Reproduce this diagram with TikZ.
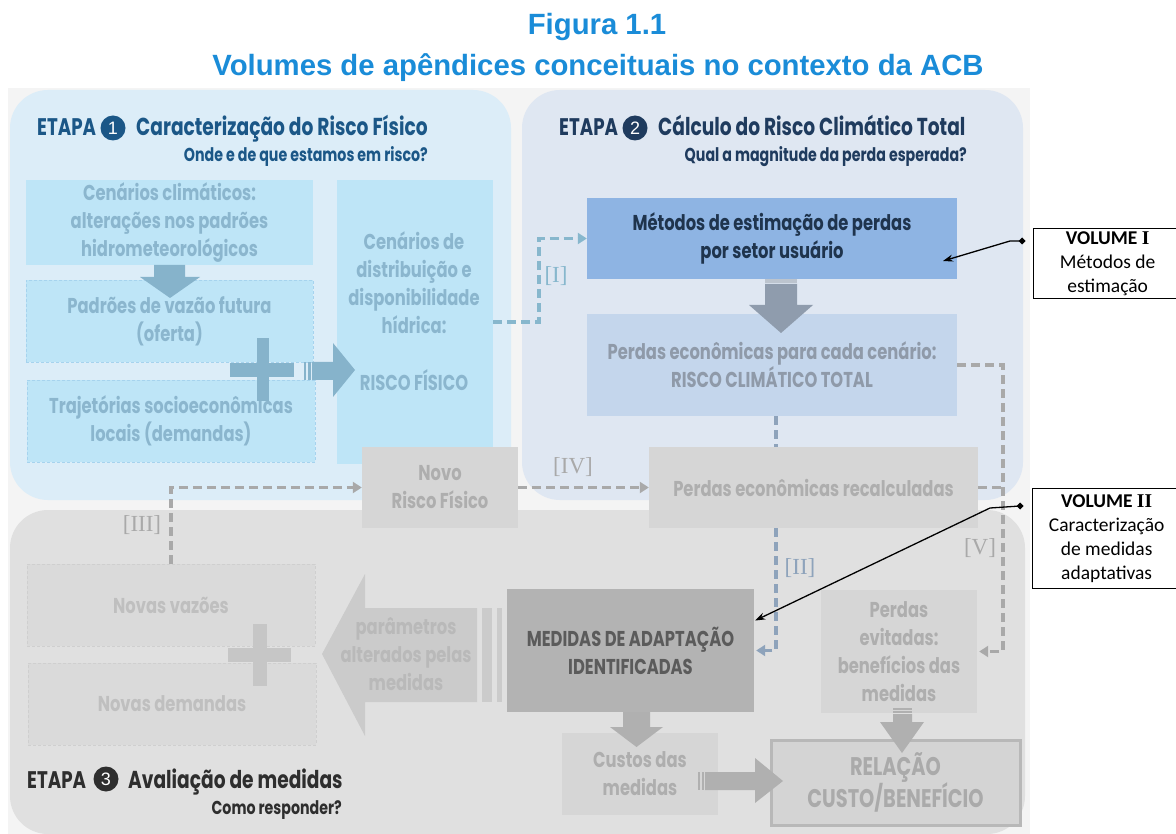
\documentclass[tikz,border=0pt]{standalone}
\usepackage{fontspec}
\usetikzlibrary{arrows.meta,calc}
\setmainfont{Liberation Sans}
\newfontfamily\cond[FakeStretch=0.76]{Poppins}
\newfontfamily\calib{Carlito}
\newfontfamily\serifl{Liberation Serif}
\definecolor{bgout}{HTML}{F4F4F4}
\definecolor{pone}{HTML}{DCEDF8}
\definecolor{ptwo}{HTML}{DFE7F2}
\definecolor{pthree}{HTML}{E0E0E0}
\definecolor{cyfill}{HTML}{BEE5F7}
\definecolor{cytext}{HTML}{8BB6CE}
\definecolor{cyarrow}{HTML}{86B3CB}
\definecolor{cyborder}{HTML}{A6D3EE}
\definecolor{hdone}{HTML}{1B5787}
\definecolor{hdtwo}{HTML}{1F3B5E}
\definecolor{hdthree}{HTML}{2E2E2E}
\definecolor{metfill}{HTML}{8EB4E3}
\definecolor{mettext}{HTML}{1F344D}
\definecolor{arrtwo}{HTML}{8F9CAD}
\definecolor{rctfill}{HTML}{C4D6EC}
\definecolor{rcttext}{HTML}{8F9AA9}
\definecolor{gfill}{HTML}{D6D6D6}
\definecolor{gtext}{HTML}{AEAEAE}
\definecolor{medfill}{HTML}{B3B3B3}
\definecolor{medtext}{HTML}{5B5B5B}
\definecolor{bigarr}{HTML}{CBCBCB}
\definecolor{bigtext}{HTML}{B9B9B9}
\definecolor{garrow}{HTML}{B0B0B0}
\definecolor{novfill}{HTML}{DADADA}
\definecolor{novborder}{HTML}{CFCFCF}
\definecolor{novtext}{HTML}{BFBFBF}
\definecolor{plusthree}{HTML}{C6C6C6}
\definecolor{dgray}{HTML}{A9A9A9}
\definecolor{dblue}{HTML}{87B7CD}
\definecolor{dtwo}{HTML}{8EA3BB}
\definecolor{relfill}{HTML}{D4D4D4}
\definecolor{relborder}{HTML}{B8B8B8}
\definecolor{reltext}{HTML}{AAAAAA}
\definecolor{titleblue}{HTML}{1A8CD8}
\begin{document}
\begin{tikzpicture}[x=1pt,y=-1pt,
  bx/.style={inner sep=0pt, align=center, font=\cond\bfseries\fontsize{21.5}{28}\selectfont},
  hd/.style={inner sep=0pt, anchor=base west, font=\cond\bfseries\fontsize{24.5}{24.5}\selectfont},
  etapa/.style={inner sep=0pt, anchor=base west, font=\cond\bfseries\fontsize{24}{24}\selectfont},
  subhd/.style={inner sep=0pt, anchor=base east, font=\cond\bfseries\fontsize{18.7}{18.7}\selectfont},
  num/.style={circle, inner sep=0pt, minimum size=25pt, text=white, font=\fontsize{18}{18}\selectfont},
  ttl/.style={inner sep=0pt, text=titleblue, font=\bfseries\fontsize{29.3}{29.3}\selectfont},
  lbl/.style={inner sep=0pt, font=\serifl\fontsize{23}{23}\selectfont},
  dashln/.style={line width=3.5pt, dash pattern=on 9pt off 5pt},
  tipa/.style={-{Triangle[length=9pt,width=11pt]}},
  volbox/.style={draw=black, line width=1.3pt, fill=white, inner sep=0pt, align=center, anchor=north west, font=\calib\fontsize{19.5}{24}\selectfont},
  vconn/.style={draw=black, line width=1.3pt},
]
\useasboundingbox (0,0) rectangle (1176,834);
\fill[white] (0,0) rectangle (1176,834);
\fill[bgout] (8,88) rectangle (1030,834);
\fill[pone, rounded corners=38pt] (10,90) rectangle (511,500);
\fill[ptwo, rounded corners=38pt] (522,90) rectangle (1023,500);
\fill[pthree, rounded corners=38pt] (10,510) rectangle (1025,834);

% titles
\node[ttl] (t1) at (597,27) {Figura 1.1};
\node[ttl] (t2) at (598,68) {Volumes de apêndices conceituais no contexto da ACB};

% headers
\node[etapa, text=hdone] (e1a) at (37,136) {ETAPA};
\node[num, fill=hdone] (e1c) at (113,128) {1};
\node[hd, text=hdone] (e1t) at (136,136) {Caracterização do Risco Físico};
\node[subhd, text=hdone] (e1s) at (428,162) {Onde e de que estamos em risco?};

\node[etapa, text=hdtwo] (e2a) at (559,136) {ETAPA};
\node[num, fill=hdtwo] (e2c) at (635,128) {2};
\node[hd, text=hdtwo] (e2t) at (658,136) {Cálculo do Risco Climático Total};
\node[subhd, text=hdtwo] (e2s) at (967,162) {Qual a magnitude da perda esperada?};

\node[etapa, text=hdthree] (e3a) at (27,788) {ETAPA};
\node[num, fill=hdthree] (e3c) at (106,779) {3};
\node[hd, text=hdthree] (e3t) at (128,788) {Avaliação de medidas};
\node[subhd, text=hdthree] (e3s) at (342,814) {Como responder?};

% ETAPA 1 boxes
\node[bx, fill=cyfill, text=cytext, minimum width=287pt, minimum height=85pt] (clim) at (169.5,222.5) {Cenários climáticos:\\alterações nos padrões\\hidrometeorológicos};
\node[bx, fill=cyfill, text=cytext, draw=cyborder, densely dashed, line width=0.6pt, minimum width=287pt, minimum height=82pt] (padroes) at (169.5,321) {Padrões de vazão futura\\(oferta)};
\node[bx, fill=cyfill, text=cytext, draw=cyborder, densely dashed, line width=0.6pt, minimum width=288pt, minimum height=82pt] (traj) at (171,421) {Trajetórias socioeconômicas\\locais (demandas)};
\node[bx, fill=cyfill, minimum width=156pt, minimum height=284pt] (riscof) at (415,322) {};
\node[bx, text=cytext] (riscoft) at (414,283) {Cenários de\\distribuição e\\disponibilidade\\hídrica:};
\node[bx, text=cytext] (riscofb) at (414,380) {RISCO FÍSICO};

% etapa 1 block arrows
\fill[cyarrow] (154,265) -- (185,265) -- (185,277) -- (200,277) -- (170,298) -- (140,277) -- (154,277) -- cycle;
\fill[cyarrow] (230,363) rectangle (294,377);
\fill[cyarrow] (257,338) rectangle (269,401);
\fill[cyarrow] (304,362) rectangle (306,380);
\fill[cyarrow] (308,362) rectangle (310.5,380);
\fill[cyarrow] (312,362) -- (333,362) -- (333,343) -- (355,370) -- (333,397) -- (333,380) -- (312,380) -- cycle;

% ETAPA 2 boxes
\node[bx, fill=metfill, text=mettext, minimum width=370pt, minimum height=81pt] (metodos) at (772,238.5) {Métodos de estimação de perdas\\por setor usuário};
\node[bx, fill=rctfill, text=rcttext, minimum width=370pt, minimum height=102pt] (rct) at (772,365) {Perdas econômicas para cada cenário:\\RISCO CLIMÁTICO TOTAL};
\fill[arrtwo!60] (765,279) rectangle (797,283);
\fill[arrtwo] (765,284) -- (797,284) -- (797,305) -- (813,305) -- (781,333) -- (749,305) -- (765,305) -- cycle;

\node[bx, fill=gfill, text=gtext, minimum width=329pt, minimum height=81pt] (recalc) at (813.5,487.5) {Perdas econômicas recalculadas};
\node[bx, fill=gfill, text=gtext, minimum width=156pt, minimum height=81pt] (novo) at (440,487.5) {Novo\\Risco Físico};

% ETAPA 3 boxes
\node[bx, fill=novfill, text=novtext, draw=novborder, densely dashed, line width=0.6pt, minimum width=288pt, minimum height=82pt] (novasv) at (171,605) {Novas vazões};
\node[bx, fill=novfill, text=novtext, draw=novborder, densely dashed, line width=0.6pt, minimum width=288pt, minimum height=82pt] (novasd) at (172,704) {Novas demandas};
\fill[plusthree] (228,648) rectangle (291,662);
\fill[plusthree] (253,624) rectangle (267,686);

\fill[bigarr] (322,654) -- (365,574) -- (365,608) -- (477,608) -- (477,702) -- (365,702) -- (365,736) -- cycle;
\fill[bigarr] (482,608) rectangle (492,702);
\fill[bigarr] (497,608) rectangle (502,702);
\node[bx, text=bigtext] (param) at (406,654) {parâmetros\\alterados pelas\\medidas};

\node[bx, fill=medfill, text=medtext, minimum width=247pt, minimum height=123pt] (medidas) at (630.5,650.5) {MEDIDAS DE ADAPTAÇÃO\\IDENTIFICADAS};
\node[bx, fill=gfill, text=gtext, minimum width=156pt, minimum height=82pt] (custos) at (640,774) {Custos das\\medidas};
\node[bx, fill=gfill, text=gtext, minimum width=156pt, minimum height=123pt] (evit) at (899,651.5) {Perdas\\evitadas:\\benefícios das\\medidas};
\node[bx, fill=relfill, draw=relborder, line width=3pt, text=reltext, minimum width=249pt, minimum height=85pt, font=\cond\bfseries\fontsize{25.5}{30}\selectfont] (relacao) at (895.5,782.5) {RELAÇÃO\\CUSTO/BENEFÍCIO};

\fill[garrow] (623,712) -- (650,712) -- (650,727) -- (663,727) -- (636.5,747) -- (610,727) -- (623,727) -- cycle;
\fill[garrow] (698,772) rectangle (700,790);
\fill[garrow] (702,772) rectangle (704,790);
\fill[garrow] (705,772) -- (755,772) -- (755,758) -- (783,781) -- (755,803) -- (755,790) -- (705,790) -- cycle;
\fill[garrow] (893,708) rectangle (912,710);
\fill[garrow] (893,711) rectangle (912,713);
\fill[garrow] (893,714) -- (912,714) -- (912,722) -- (924,722) -- (902,753) -- (880,722) -- (893,722) -- cycle;

% dashed connectors
\coordinate (xi) at (539,0);
\coordinate (xii) at (776,0);
\coordinate (xv) at (1003,0);
\draw[dashln, dblue, tipa] (riscof.east) -- (xi |- riscof.east) |- (metodos.west);
\draw[dashln, dtwo] (rct.south -| xii) -- (recalc.north -| xii);
\draw[dashln, dtwo, tipa] (recalc.south -| xii) |- ($(medidas.east)+(2,0)$);
\draw[dashln, dgray, tipa] (novasv.north) |- (novo.west);
\draw[dashln, dgray, tipa] (novo.east) -- (recalc.west);
\draw[dashln, dgray, tipa] (rct.east) -| (xv |- evit.east) -- ($(evit.east)+(2,0)$);
\draw[dashln, dgray] (recalc.east) -- (xv |- recalc.east);

\node[lbl, text=dblue] (li) at (556,276) {[I]};
\node[lbl, text=dtwo] (lii) at (800,568) {[II]};
\node[lbl, text=dgray] (liii) at (142,525) {[III]};
\node[lbl, text=dgray] (liv) at (573,467) {[IV]};
\node[lbl, text=dgray] (lv) at (980,548) {[V]};

% volume boxes
\node[volbox, minimum width=148pt, minimum height=70pt] (vol1) at (1033,228) {\textbf{VOLUME {\serifl I}}\\Métodos de\\estimação};
\node[volbox, minimum width=148pt, minimum height=100pt] (vol2) at (1032,488) {\textbf{VOLUME {\serifl II}}\\Caracterização\\de medidas\\adaptativas};
\coordinate (d1) at (1022,241);
\coordinate (d1b) at (1010,241);
\coordinate (d1t) at (943,261);
\coordinate (d2) at (1020,506);
\coordinate (d2b) at (990,508);
\coordinate (d2t) at ($(medidas.east)+(1,-30)$);
\fill (d1) +(-3.5,0) -- +(0,-3.5) -- +(3.5,0) -- +(0,3.5) -- cycle;
\fill (d2) +(-3.5,0) -- +(0,-3.5) -- +(3.5,0) -- +(0,3.5) -- cycle;
\draw[vconn, -{Stealth[length=10pt,width=7pt]}] (d1) -- (d1b) -- (d1t);
\draw[vconn, -{Stealth[length=10pt,width=7pt]}] (d2) -- (d2b) -- (d2t);
\end{tikzpicture}
\end{document}
